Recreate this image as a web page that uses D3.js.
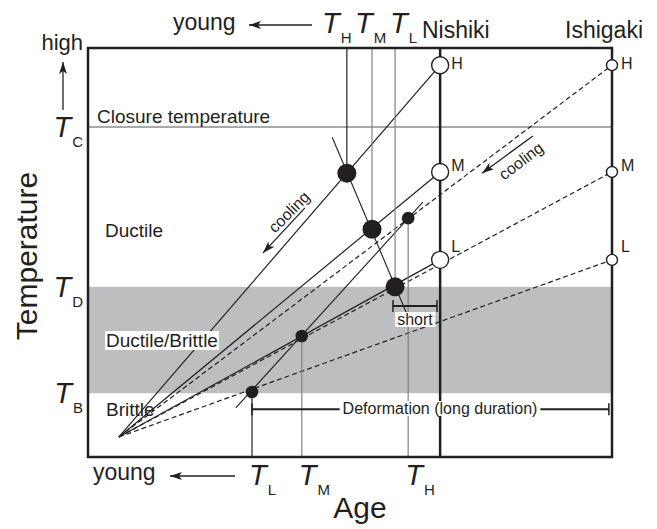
<!DOCTYPE html>
<html>
<head>
<meta charset="utf-8">
<script src="https://cdn.jsdelivr.net/npm/d3@7"></script>
<style>
  body { margin: 0; background: #fff; }
  svg text { font-family: "Liberation Sans", Arial, sans-serif; fill: #231f20; }
</style>
</head>
<body>
<svg width="657" height="529"></svg>
<script>
// schematic units: age 0..100 (left..right), temperature 0..100 (bottom..top)
const sites = ["Nishiki", "Ishigaki"];
const siteAge = [67.2, 100];
const levels = ["H", "M", "L"];
const startTemp = [95.8, 69.7, 48.2];
const origin = [5.9, 4.9];                 // where all cooling paths meet

const boundaryNames = ["C", "D", "B"];
const boundaryTemps = [80.7, 41.6, 15.6];

// closure points (H, M, L) on each cooling path
const nishikiAge = [49.4, 54.2, 58.6];
const nishikiTemp = [69.4, 55.7, 41.6];
const ishigakiAge = [61.1, 40.8, 31.3];
const ishigakiTemp = [58.4, 29.6, 15.9];

// lines that join the closure points
const nishikiTrend = [[46.6, 78.2], [61.5, 33.0]];
const ishigakiTrend = [[28.2, 12.0], [63.9, 62.3]];

// cooling arrows
const coolingArrows = [[[41.4, 60.9], [33.4, 49.9]], [[84.9, 78.5], [75.2, 69.4]]];

// duration brackets [from age, to age, temp]
const longBracket = [31.3, 99.4, 11.7];
const shortBracket = [58.2, 66.6, 36.9];

const ink = "#231f20";
const grey = "#808285";

const svg = d3.select("svg");
const x = d3.scaleLinear().domain([0, 100]).range([88, 612]);
const y = d3.scaleLinear().domain([0, 100]).range([457, 48]);

svg.append("defs").append("marker")
    .attr("id", "ah")
    .attr("viewBox", "0 0 12 8")
    .attr("refX", 12).attr("refY", 4)
    .attr("markerWidth", 13).attr("markerHeight", 8)
    .attr("markerUnits", "userSpaceOnUse")
    .attr("orient", "auto")
  .append("path").attr("d", "M0,0L12,4L0,8L3,4z").attr("fill", ink);

// ductile/brittle band
svg.append("rect")
    .attr("x", x(0)).attr("y", y(boundaryTemps[1]))
    .attr("width", x(100) - x(0))
    .attr("height", y(boundaryTemps[2]) - y(boundaryTemps[1]))
    .attr("fill", "#bcbec0");

// closure temperature line
svg.append("line")
    .attr("x1", x(0)).attr("x2", x(100))
    .attr("y1", y(boundaryTemps[0])).attr("y2", y(boundaryTemps[0]))
    .attr("stroke", "#a7a9ac").attr("stroke-width", 2);

// cooling paths
levels.forEach((lv, i) => {
    sites.forEach((s, j) => {
        svg.append("line")
            .attr("x1", x(origin[0])).attr("y1", y(origin[1]))
            .attr("x2", x(siteAge[j])).attr("y2", y(startTemp[i]))
            .attr("stroke", ink).attr("stroke-width", 1.2)
            .attr("stroke-dasharray", j === 1 ? "5,3" : null);
    });
});

// trend lines through closure points
[nishikiTrend, ishigakiTrend].forEach(t => {
    svg.append("line")
        .attr("x1", x(t[0][0])).attr("y1", y(t[0][1]))
        .attr("x2", x(t[1][0])).attr("y2", y(t[1][1]))
        .attr("stroke", ink).attr("stroke-width", 1.1);
});

// vertical age lines
const topColors = [ink, grey, grey];
nishikiAge.forEach((a, i) => {
    svg.append("line")
        .attr("x1", x(a)).attr("x2", x(a))
        .attr("y1", y(100)).attr("y2", y(nishikiTemp[i]))
        .attr("stroke", topColors[i]).attr("stroke-width", 1.2);
});
const bottomColors = [grey, grey, ink];
ishigakiAge.forEach((a, i) => {
    svg.append("line")
        .attr("x1", x(a)).attr("x2", x(a))
        .attr("y1", y(0)).attr("y2", y(ishigakiTemp[i]))
        .attr("stroke", bottomColors[i]).attr("stroke-width", 1.2);
});

// frame and Nishiki line
svg.append("rect")
    .attr("x", x(0)).attr("y", y(100))
    .attr("width", x(100) - x(0)).attr("height", y(0) - y(100))
    .attr("fill", "none").attr("stroke", ink).attr("stroke-width", 2.5);
svg.append("line")
    .attr("x1", x(siteAge[0])).attr("x2", x(siteAge[0]))
    .attr("y1", y(100)).attr("y2", y(0))
    .attr("stroke", ink).attr("stroke-width", 2.5);

// closure points
svg.selectAll(".nc").data(nishikiAge).enter().append("circle")
    .attr("cx", d => x(d)).attr("cy", (d, i) => y(nishikiTemp[i]))
    .attr("r", 9.5).attr("fill", ink);
svg.selectAll(".ic").data(ishigakiAge).enter().append("circle")
    .attr("cx", d => x(d)).attr("cy", (d, i) => y(ishigakiTemp[i]))
    .attr("r", 6.3).attr("fill", ink);

// starting points
const labelDy = [4, -1, -8];
sites.forEach((s, j) => {
    levels.forEach((lv, i) => {
        svg.append("circle")
            .attr("cx", x(siteAge[j])).attr("cy", y(startTemp[i]))
            .attr("r", j === 0 ? 8.5 : 5.5)
            .attr("fill", "#fff").attr("stroke", ink).attr("stroke-width", 1.4);
        svg.append("text")
            .attr("x", x(siteAge[j]) + (j === 0 ? 11 : 9))
            .attr("y", y(startTemp[i]) + labelDy[i])
            .attr("font-size", 16)
            .text(lv);
    });
});

// cooling arrows + labels
coolingArrows.forEach((a, k) => {
    svg.append("line")
        .attr("x1", x(a[0][0])).attr("y1", y(a[0][1]))
        .attr("x2", x(a[1][0])).attr("y2", y(a[1][1]))
        .attr("stroke", ink).attr("stroke-width", 1.3)
        .attr("marker-end", "url(#ah)");
});
svg.append("text").attr("transform", "translate(289,212) rotate(-45)")
    .attr("text-anchor", "middle").attr("dominant-baseline", "central")
    .attr("font-size", 16).text("cooling");
svg.append("text").attr("transform", "translate(521,161) rotate(-37)")
    .attr("text-anchor", "middle").attr("dominant-baseline", "central")
    .attr("font-size", 16).text("cooling");

// text with white box behind
function boxedText(tx, ty, str, size, anchor, pad) {
    const g = svg.append("g");
    const r = g.append("rect").attr("fill", "#fff");
    const t = g.append("text").attr("x", tx).attr("y", ty)
        .attr("font-size", size).attr("text-anchor", anchor).text(str);
    const b = t.node().getBBox();
    r.attr("x", b.x - pad).attr("y", b.y + 1).attr("width", b.width + 2 * pad).attr("height", b.height - 2);
    return t;
}

// brackets
function bracket(b, h) {
    svg.append("line").attr("x1", x(b[0])).attr("x2", x(b[1]))
        .attr("y1", y(b[2])).attr("y2", y(b[2]))
        .attr("stroke", ink).attr("stroke-width", 2);
    [b[0], b[1]].forEach(a => {
        svg.append("line").attr("x1", x(a)).attr("x2", x(a))
            .attr("y1", y(b[2]) - h).attr("y2", y(b[2]) + h)
            .attr("stroke", ink).attr("stroke-width", 1.5);
    });
}
bracket(longBracket, 6);
bracket(shortBracket, 6);
boxedText(440, 414, "Deformation (long duration)", 16, "middle", 3);
boxedText(415, 325, "short", 16, "middle", 2);

// region labels
svg.append("text").attr("x", 97).attr("y", 123).attr("font-size", 19).text("Closure temperature");
svg.append("text").attr("x", 105).attr("y", 237).attr("font-size", 19).text("Ductile");
boxedText(106, 347, "Ductile/Brittle", 19, "start", 1);
svg.append("text").attr("x", 106).attr("y", 416).attr("font-size", 19).text("Brittle");

// temperature axis labels
boundaryNames.forEach((n, i) => {
    const t = svg.append("text").attr("x", 83).attr("y", y(boundaryTemps[i]) + 10)
        .attr("text-anchor", "end").attr("font-size", 29);
    t.append("tspan").attr("font-style", "italic").text("T");
    t.append("tspan").attr("font-size", 15).attr("dx", 1).attr("dy", 10).text(n);
});
svg.append("text").attr("x", 83).attr("y", 50).attr("text-anchor", "end").attr("font-size", 22).text("high");
svg.append("line").attr("x1", 63).attr("x2", 63).attr("y1", 110).attr("y2", 62)
    .attr("stroke", ink).attr("stroke-width", 1.3).attr("marker-end", "url(#ah)");
svg.append("text").attr("transform", "translate(37,256) rotate(-90)")
    .attr("text-anchor", "middle").attr("font-size", 30).text("Temperature");

// age labels
function ageLabel(px, py, sub) {
    const t = svg.append("text").attr("x", px).attr("y", py).attr("font-size", 29);
    t.append("tspan").attr("font-style", "italic").text("T");
    t.append("tspan").attr("font-size", 15).attr("dx", 1).attr("dy", 10).text(sub);
}
const topLabelX = [322, 355, 390];
levels.forEach((lv, i) => ageLabel(topLabelX[i], 33, lv));
ishigakiAge.forEach((a, i) => ageLabel(x(a) - 3, 485, levels[i]));

svg.append("text").attr("x", 173).attr("y", 30).attr("font-size", 23).text("young");
svg.append("line").attr("x1", 312).attr("x2", 249).attr("y1", 25).attr("y2", 25)
    .attr("stroke", ink).attr("stroke-width", 1.3).attr("marker-end", "url(#ah)");
svg.append("text").attr("x", 93).attr("y", 480).attr("font-size", 23).text("young");
svg.append("line").attr("x1", 235).attr("x2", 170).attr("y1", 476).attr("y2", 476)
    .attr("stroke", ink).attr("stroke-width", 1.3).attr("marker-end", "url(#ah)");

svg.append("text").attr("x", 422).attr("y", 38).attr("font-size", 23).text("Nishiki");
svg.append("text").attr("x", 643).attr("y", 38).attr("text-anchor", "end").attr("font-size", 23).text("Ishigaki");
svg.append("text").attr("x", 360).attr("y", 518).attr("text-anchor", "middle").attr("font-size", 30).text("Age");
</script>
</body>
</html>
